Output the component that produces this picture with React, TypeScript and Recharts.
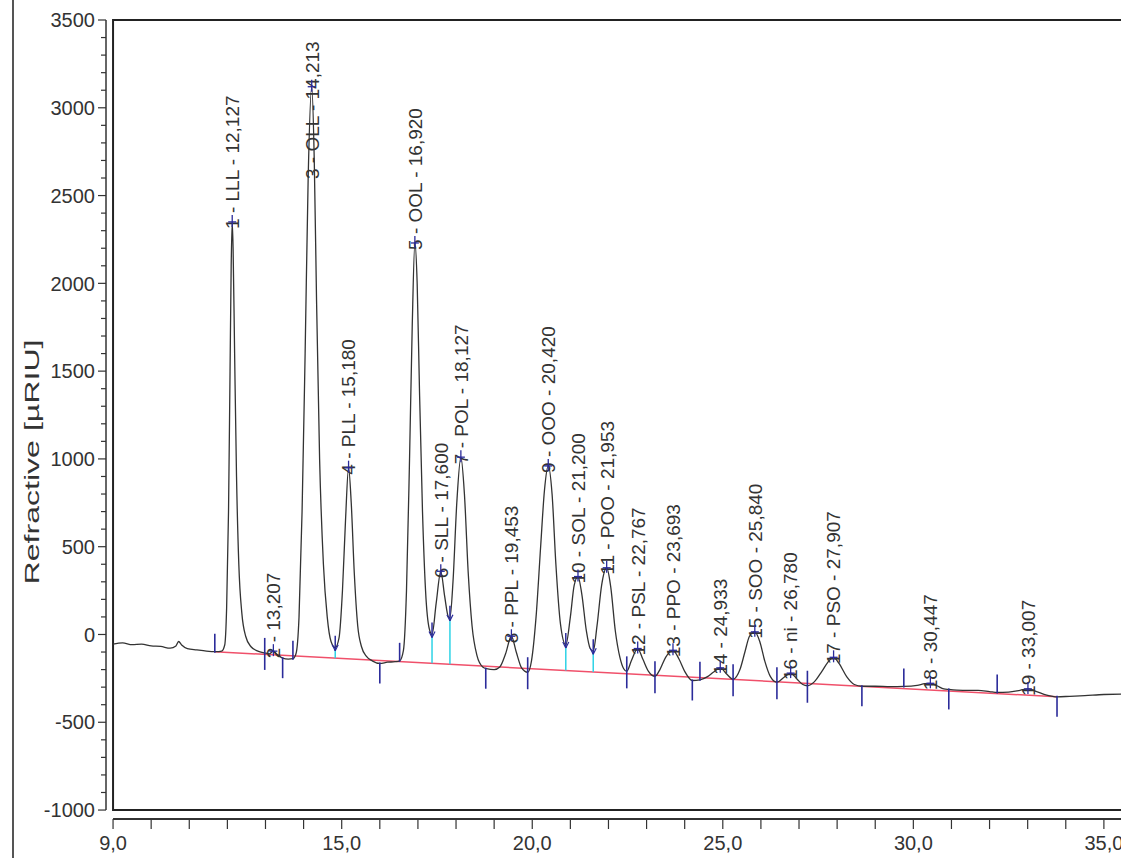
import React from "react";
import {
  ComposedChart,
  Line,
  Scatter,
  XAxis,
  YAxis,
  ReferenceLine,
  ReferenceArea,
} from "recharts";

// signal trace (retention time in min, response in µRIU)
const sigT = [
  9.0, 9.25, 9.5, 9.75, 10.0, 10.25, 10.5, 10.65, 10.72, 10.8, 10.95, 11.2, 11.45, 11.7, 11.85, 11.93, 11.98,
  12.03, 12.07, 12.1, 12.127, 12.15, 12.19, 12.24, 12.3, 12.38, 12.48, 12.62, 12.8, 12.98, 13.1, 13.207, 13.3,
  13.45, 13.6, 13.72, 13.8, 13.88, 13.96, 14.04, 14.12, 14.213, 14.28, 14.34, 14.42, 14.52, 14.62, 14.72, 14.83,
  14.93, 15.02, 15.1, 15.18, 15.25, 15.33, 15.42, 15.52, 15.65, 15.8, 16.0, 16.2, 16.4, 16.52, 16.62, 16.7, 16.78,
  16.85, 16.92, 16.98, 17.04, 17.12, 17.2, 17.3, 17.37, 17.48, 17.6, 17.7, 17.8, 17.84, 17.92, 18.02, 18.127,
  18.22, 18.32, 18.42, 18.55, 18.7, 18.8, 19.0, 19.15, 19.3, 19.453, 19.58, 19.72, 19.88, 19.98, 20.1, 20.22,
  20.32, 20.42, 20.52, 20.62, 20.74, 20.88, 21.0, 21.1, 21.2, 21.3, 21.42, 21.52, 21.6, 21.7, 21.82, 21.953,
  22.06, 22.18, 22.3, 22.4, 22.48, 22.6, 22.767, 22.9, 23.05, 23.22, 23.35, 23.5, 23.693, 23.85, 24.0, 24.2,
  24.4, 24.6, 24.75, 24.933, 25.1, 25.27, 25.45, 25.58, 25.7, 25.84, 25.97, 26.1, 26.25, 26.42, 26.6, 26.78,
  26.95, 27.1, 27.22, 27.4, 27.6, 27.75, 27.907, 28.05, 28.25, 28.45, 28.65, 29.0, 29.4, 29.75, 30.1, 30.3,
  30.447, 30.62, 30.8, 30.93, 31.3, 31.7, 32.0, 32.2, 32.5, 32.8, 33.007, 33.2, 33.5, 33.77, 34.1, 34.5, 35.0,
  35.5, 36.0,
];
const sigV = [
  -55, -48, -58, -55, -65, -68, -78, -65, -40, -60, -80, -88, -95, -98, -95, -60, 150,
  700, 1500, 2100, 2350, 2200, 1600, 900, 400, 120, -10, -70, -95, -105, -110, -95, -112,
  -135, -140, -138, -110, 100, 700, 1600, 2600, 3120, 2700, 1900, 1000, 400, 100, -40, -75,
  -20, 250, 650, 950, 750, 350, 50, -70, -125, -150, -165, -158, -155, -150, -90, 250, 1000,
  1750, 2230, 2000, 1400, 700, 250, 30, 0, 180, 360, 220, 100, 95, 300, 750, 1010,
  800, 350, 50, -120, -185, -195, -200, -185, -110, -10, -100, -190, -215, -150, 100, 500,
  820, 960, 800, 400, 60, -60, 100, 280, 330, 230, 20, -80, -95, 50, 280, 380,
  270, 20, -130, -195, -210, -150, -80, -140, -210, -238, -200, -130, -90, -140, -210, -262,
  -258, -240, -215, -190, -225, -255, -200, -100, -10, 15, -40, -150, -240, -272, -245, -220,
  -255, -285, -292, -270, -210, -160, -130, -165, -240, -285, -295, -295, -297, -296, -290, -280,
  -278, -292, -310, -313, -318, -318, -325, -330, -328, -318, -310, -322, -345, -355, -352, -348, -342,
  -340, -340,
];

// identified peaks
const peakT = [12.127, 13.207, 14.213, 15.18, 16.92, 17.6, 18.127, 19.453, 20.42, 21.2, 21.953, 22.767, 23.693, 24.933, 25.84, 26.78, 27.907, 30.447, 33.007];
const peakV = [2350, -95, 3120, 950, 2230, 360, 1010, -10, 960, 330, 380, -80, -90, -190, 15, -220, -130, -278, -310];
const peakNames = ["LLL", "", "OLL", "PLL", "OOL", "SLL", "POL", "PPL", "OOO", "SOL", "POO", "PSL", "PPO", "", "SOO", "ni", "PSO", "", ""];

// integration markers
const markT = [11.67, 12.98, 13.45, 13.72, 16.0, 16.52, 18.78, 19.88, 22.48, 23.22, 24.2, 24.4, 25.27, 26.42, 27.22, 28.65, 29.75, 30.93, 32.2, 33.77];
const markV = [-98, -105, -135, -138, -165, -150, -195, -215, -210, -238, -262, -258, -255, -272, -292, -295, -296, -313, -330, -355];
const markDir = ["up", "cross", "down", "up", "down", "up", "down", "cross", "cross", "cross", "down", "up", "cross", "cross", "cross", "down", "up", "down", "up", "down"];

// valley drop lines
const dropT = [14.83, 17.37, 17.84, 20.88, 21.6];
const dropV = [-75, 0, 95, -60, -95];

// baseline
const baseT = [11.67, 33.77];
const baseV = [-98, -355];

const xTicks = [9, 10, 11, 12, 13, 14, 15, 16, 17, 18, 19, 20, 21, 22, 23, 24, 25, 26, 27, 28, 29, 30, 31, 32, 33, 34, 35];
const xLabelled = [9, 15, 20, 25, 30, 35];
const yTicks: number[] = [];
for (let v = -1000; v <= 3500; v += 100) yTicks.push(v);

const X_MIN = 8.815;
const X_MAX = 36;
const Y_MIN = -1051;
const Y_MAX = 3500;

const FONT = "'Liberation Sans', Arial, sans-serif";
const INK = "#333";
const BLUE = "#2b2b9a";

const signal = sigT.map((t, i) => ({ t, v: sigV[i] }));
const peaks = peakT.map((t, i) => ({ t, v: peakV[i], n: i + 1, name: peakNames[i] }));
const marks = markT.map((t, i) => ({ t, v: markV[i], dir: markDir[i] }));
const baseAt = (t: number) => baseV[0] + ((t - baseT[0]) * (baseV[1] - baseV[0])) / (baseT[1] - baseT[0]);
const drops = dropT.map((t, i) => ({ t, v: dropV[i] }));

const fmt = (v: number, d: number) => v.toFixed(d).replace(".", ",");

const YTick = (props: any) => {
  const { x, y, payload } = props;
  const major = payload.value % 500 === 0;
  return (
    <g>
      <line x1={x - (major ? 8 : 5)} x2={x} y1={y} y2={y} stroke={INK} strokeWidth={1.2} />
      {major && (
        <text x={x - 11} y={y} dy="0.36em" textAnchor="end" fontFamily={FONT} fontSize={20} fill={INK}>
          {payload.value}
        </text>
      )}
    </g>
  );
};

const XTick = (props: any) => {
  const { x, y, payload } = props;
  const v = payload.value;
  const major = xLabelled.includes(v);
  return (
    <g>
      <line x1={x} x2={x} y1={y} y2={y + 10} stroke={INK} strokeWidth={1.2} />
      {major && (
        <text x={x} y={y + 31} textAnchor="middle" fontFamily={FONT} fontSize={20} fill={INK}>
          {fmt(v, 1)}
        </text>
      )}
    </g>
  );
};

const LABEL_FS = 19;

const PeakMark = (props: any) => {
  const { cx, cy, payload } = props;
  const label = `${payload.n} - ${payload.name ? payload.name + " - " : ""}${fmt(payload.t, 3)}`;
  const len = label.length * LABEL_FS * 0.5;
  let by = cy + 7;
  if (by - len < 27) by = 27 + len;
  return (
    <g>
      <text
        x={cx}
        y={by}
        dy="0.36em"
        transform={`rotate(-90 ${cx} ${by})`}
        fontFamily={FONT}
        fontSize={LABEL_FS}
        fill={INK}
      >
        {label}
      </text>
      <line x1={cx} x2={cx} y1={cy - 7} y2={cy + 5} stroke={BLUE} strokeWidth={1.3} />
      <line x1={cx - 4} x2={cx + 4} y1={cy} y2={cy} stroke={BLUE} strokeWidth={1.3} />
    </g>
  );
};

const MarkTick = (props: any) => {
  const { cx, cy, payload } = props;
  let y1 = cy - 15;
  let y2 = cy + 17;
  if (payload.dir === "up") {
    y1 = cy - 18;
    y2 = cy + 1;
  } else if (payload.dir === "down") {
    y1 = cy - 1;
    y2 = cy + 20;
  }
  return <line x1={cx} x2={cx} y1={y1} y2={y2} stroke={BLUE} strokeWidth={1.6} />;
};

const DropTick = (props: any) => {
  const { cx, cy } = props;
  return (
    <g>
      <line x1={cx} x2={cx} y1={cy - 12} y2={cy + 3} stroke={BLUE} strokeWidth={1.5} />
      <line x1={cx - 3} x2={cx} y1={cy - 3} y2={cy + 3} stroke={BLUE} strokeWidth={1.2} />
      <line x1={cx + 3} x2={cx} y1={cy - 3} y2={cy + 3} stroke={BLUE} strokeWidth={1.2} />
    </g>
  );
};

export default function App() {
  return (
    <div
      style={{
        position: "fixed",
        left: 0,
        top: 0,
        width: 1121,
        height: 858,
        overflow: "hidden",
        background: "#fff",
      }}
    >
      <div style={{ position: "absolute", left: 12, top: 0, width: 2, height: 858, background: "#555" }} />
      <svg width={60} height={858} style={{ position: "absolute", left: 0, top: 0 }}>
        <text
          x={31}
          y={462}
          dy="0.36em"
          textAnchor="middle"
          transform="rotate(-90 31 462)"
          fontFamily={FONT}
          fontSize={21}
          textLength={245}
          lengthAdjust="spacingAndGlyphs"
          fill={INK}
        >
          Refractive [µRIU]
        </text>
      </svg>
      <div style={{ position: "absolute", left: 0, top: 0 }}>
        <ComposedChart width={1142} height={858} margin={{ top: 20, right: 0, bottom: 0, left: 0 }}>
          <XAxis
            type="number"
            dataKey="t"
            domain={[X_MIN, X_MAX]}
            ticks={xTicks}
            interval={0}
            allowDataOverflow
            height={39}
            tickSize={0}
            tickMargin={0}
            tickLine={false}
            axisLine={false}
            tick={<XTick />}
          />
          <YAxis
            type="number"
            dataKey="v"
            domain={[Y_MIN, Y_MAX]}
            ticks={yTicks}
            interval={0}
            allowDataOverflow
            width={106}
            tickSize={0}
            tickMargin={0}
            tickLine={false}
            axisLine={false}
            tick={<YTick />}
          />
          <ReferenceArea
            x1={9}
            x2={X_MAX}
            y1={-1000}
            y2={Y_MAX}
            fill="none"
            stroke="#222"
            strokeWidth={2}
            ifOverflow="visible"
          />
          <ReferenceLine
            segment={[{ x: X_MIN, y: -1000 }, { x: X_MIN, y: Y_MAX }]}
            stroke={INK}
            strokeWidth={1.5}
            ifOverflow="visible"
          />
          <ReferenceLine
            segment={[{ x: 9, y: Y_MIN }, { x: X_MAX, y: Y_MIN }]}
            stroke={INK}
            strokeWidth={2}
            ifOverflow="visible"
          />
          <ReferenceLine
            segment={[{ x: baseT[0], y: baseV[0] }, { x: baseT[1], y: baseV[1] }]}
            stroke="#f0506a"
            strokeWidth={1.5}
            ifOverflow="visible"
          />
          {drops.map((d) => (
            <ReferenceLine
              key={d.t}
              segment={[{ x: d.t, y: d.v }, { x: d.t, y: baseAt(d.t) }]}
              stroke="#2ed3e6"
              strokeWidth={1.5}
              ifOverflow="visible"
            />
          ))}
          <Line
            data={signal}
            dataKey="v"
            type="monotone"
            stroke="#333"
            strokeWidth={1.3}
            dot={false}
            isAnimationActive={false}
          />
          <Scatter data={marks} dataKey="v" shape={<MarkTick />} isAnimationActive={false} />
          <Scatter data={drops} dataKey="v" shape={<DropTick />} isAnimationActive={false} />
          <Scatter data={peaks} dataKey="v" shape={<PeakMark />} isAnimationActive={false} />
        </ComposedChart>
      </div>
    </div>
  );
}
